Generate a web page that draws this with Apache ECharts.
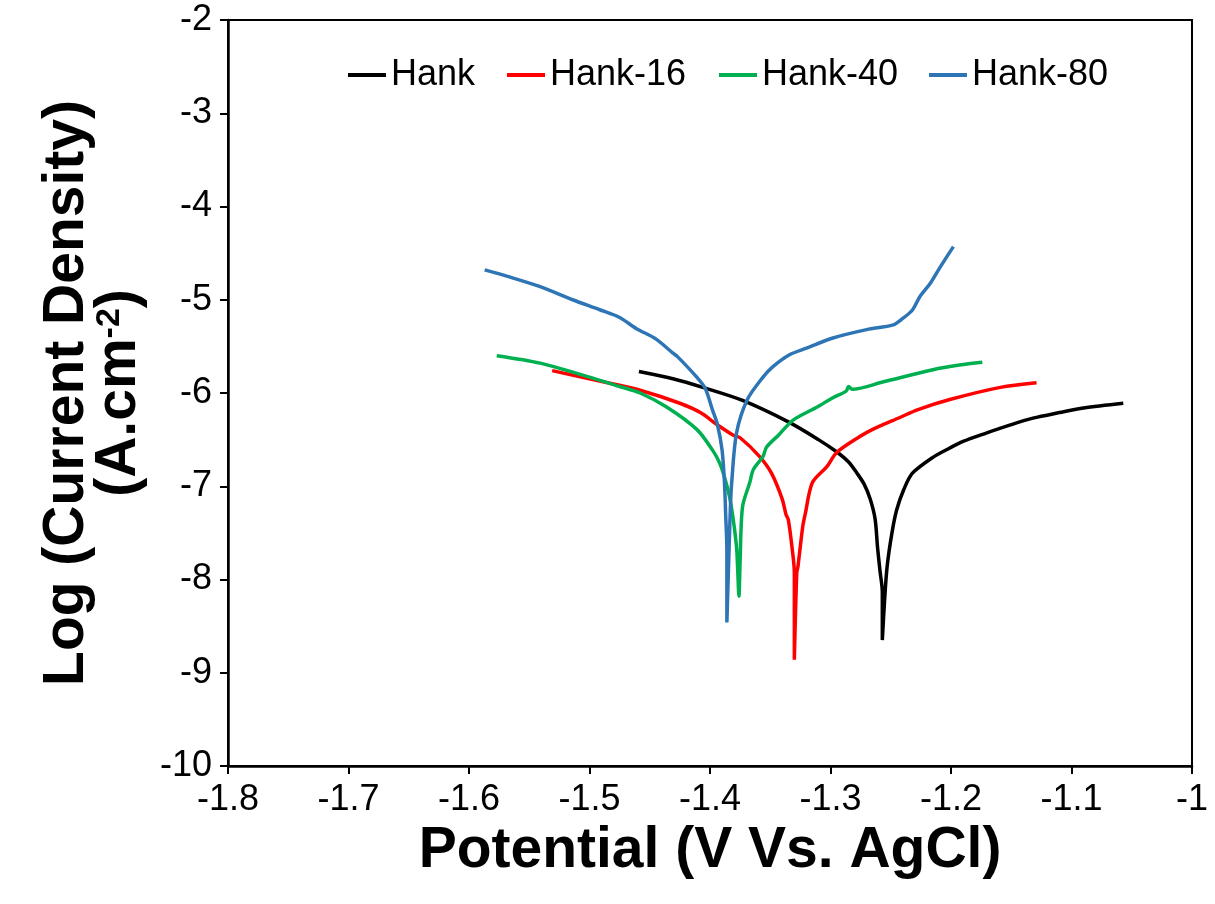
<!DOCTYPE html>
<html>
<head>
<meta charset="UTF-8">
<title>Potential vs Log current density</title>
<script src="https://cdn.jsdelivr.net/npm/echarts@6/dist/echarts.min.js"></script>
<style>
body {
	margin: 0;
	background: #ffffff;
}

#main {
	width: 1215px;
	height: 904px;
}
</style>
</head>
<body>
	<div id="main"></div>
	<script>
		// series names and colours
		var names = [ 'Hank', 'Hank-16', 'Hank-40', 'Hank-80' ];
		var colors = [ '#000000', '#FF0000', '#00B050', '#2E75B6' ];

		// [potential V, log current density]
		var hank = [ [ -1.459, -5.77 ], [ -1.430, -5.85 ], [ -1.406, -5.94 ],
				[ -1.373, -6.08 ], [ -1.335, -6.31 ], [ -1.310, -6.50 ],
				[ -1.295, -6.63 ], [ -1.285, -6.74 ], [ -1.278, -6.86 ],
				[ -1.272, -6.98 ], [ -1.267, -7.14 ], [ -1.263, -7.35 ],
				[ -1.261, -7.65 ], [ -1.259, -7.90 ], [ -1.257, -8.14 ],
				[ -1.257, -8.65 ], [ -1.255, -8.20 ], [ -1.253, -7.86 ],
				[ -1.249, -7.50 ], [ -1.245, -7.25 ], [ -1.239, -7.03 ],
				[ -1.232, -6.86 ], [ -1.215, -6.69 ], [ -1.201, -6.59 ],
				[ -1.190, -6.52 ], [ -1.173, -6.44 ], [ -1.150, -6.34 ],
				[ -1.132, -6.27 ], [ -1.110, -6.21 ], [ -1.090, -6.16 ],
				[ -1.057, -6.11 ] ];

		var hank16 = [ [ -1.531, -5.76 ], [ -1.485, -5.89 ], [ -1.458, -5.97 ],
				[ -1.425, -6.11 ], [ -1.408, -6.21 ], [ -1.394, -6.34 ],
				[ -1.381, -6.45 ], [ -1.375, -6.48 ], [ -1.359, -6.68 ],
				[ -1.349, -6.86 ], [ -1.340, -7.14 ], [ -1.337, -7.30 ],
				[ -1.335, -7.36 ], [ -1.332, -7.65 ], [ -1.330, -7.93 ],
				[ -1.330, -8.86 ], [ -1.328, -7.93 ], [ -1.327, -7.86 ],
				[ -1.323, -7.43 ], [ -1.321, -7.30 ], [ -1.315, -6.96 ],
				[ -1.303, -6.79 ], [ -1.295, -6.64 ], [ -1.276, -6.47 ],
				[ -1.265, -6.39 ], [ -1.242, -6.26 ], [ -1.228, -6.18 ],
				[ -1.201, -6.07 ], [ -1.159, -5.94 ], [ -1.129, -5.89 ] ];

		var hank40 = [ [ -1.577, -5.60 ], [ -1.541, -5.68 ], [ -1.500, -5.83 ],
				[ -1.475, -5.93 ], [ -1.458, -6.00 ], [ -1.436, -6.15 ],
				[ -1.411, -6.39 ], [ -1.398, -6.61 ], [ -1.392, -6.75 ],
				[ -1.388, -6.90 ], [ -1.384, -7.10 ], [ -1.381, -7.33 ],
				[ -1.378, -7.65 ], [ -1.377, -7.90 ], [ -1.376, -8.18 ],
				[ -1.375, -7.80 ], [ -1.373, -7.22 ], [ -1.367, -6.96 ],
				[ -1.364, -6.82 ], [ -1.356, -6.68 ], [ -1.353, -6.58 ],
				[ -1.343, -6.45 ], [ -1.331, -6.29 ], [ -1.311, -6.15 ],
				[ -1.298, -6.05 ], [ -1.287, -5.98 ], [ -1.285, -5.93 ],
				[ -1.282, -5.96 ], [ -1.256, -5.88 ], [ -1.215, -5.75 ],
				[ -1.193, -5.70 ], [ -1.174, -5.67 ] ];

		var hank80 = [ [ -1.587, -4.68 ], [ -1.568, -4.75 ], [ -1.541, -4.86 ],
				[ -1.514, -5.00 ], [ -1.491, -5.11 ], [ -1.475, -5.19 ],
				[ -1.461, -5.31 ], [ -1.445, -5.42 ], [ -1.431, -5.57 ],
				[ -1.427, -5.61 ], [ -1.411, -5.83 ], [ -1.404, -5.95 ],
				[ -1.398, -6.18 ], [ -1.394, -6.33 ], [ -1.390, -6.61 ],
				[ -1.388, -6.96 ], [ -1.387, -7.30 ], [ -1.386, -7.68 ],
				[ -1.386, -8.46 ], [ -1.384, -7.60 ], [ -1.383, -7.20 ],
				[ -1.382, -6.96 ], [ -1.378, -6.43 ], [ -1.369, -6.07 ],
				[ -1.356, -5.83 ], [ -1.348, -5.72 ], [ -1.334, -5.59 ],
				[ -1.320, -5.52 ], [ -1.298, -5.41 ], [ -1.270, -5.32 ],
				[ -1.248, -5.27 ], [ -1.240, -5.20 ], [ -1.232, -5.11 ],
				[ -1.226, -4.97 ], [ -1.217, -4.82 ], [ -1.209, -4.65 ],
				[ -1.198, -4.43 ] ];

		var curves = [ hank, hank16, hank40, hank80 ];

		// legend x positions (one legend per entry, like excel spacing)
		var legendLeft = [ 343, 502, 714, 924 ];

		var fontName = '"Liberation Sans", Arial, sans-serif';

		var series = [];
		var legends = [];
		for (var i = 0; i < names.length; i++) {
			series.push({
				name : names[i],
				type : 'line',
				data : curves[i],
				symbol : 'none',
				smooth : 0.3,
				lineStyle : {
					color : colors[i],
					width : 3.5
				},
				itemStyle : {
					color : colors[i]
				}
			});
			legends.push({
				data : [ names[i] ],
				left : legendLeft[i],
				top : 52,
				icon : 'rect',
				itemWidth : 38,
				itemHeight : 4,
				itemGap : 0,
				textStyle : {
					fontFamily : fontName,
					fontSize : 36,
					color : '#000'
				}
			});
		}

		var axisText = {
			fontFamily : fontName,
			fontSize : 36,
			color : '#000'
		};

		var option = {
			animation : false,
			grid : {
				left : 228,
				right : 23,
				top : 20,
				bottom : 138,
				show : true,
				borderColor : '#000',
				borderWidth : 2
			},
			legend : legends,
			xAxis : {
				type : 'value',
				min : -1.8,
				max : -1,
				interval : 0.1,
				name : 'Potential (V Vs. AgCl)',
				nameLocation : 'middle',
				nameGap : 46,
				nameTextStyle : {
					fontFamily : fontName,
					fontSize : 57,
					fontWeight : 'bold',
					color : '#000'
				},
				axisLine : {
					onZero : false,
					lineStyle : {
						color : '#000',
						width : 2.5
					}
				},
				axisTick : {
					show : true,
					length : 8,
					lineStyle : {
						color : '#000',
						width : 2
					}
				},
				axisLabel : Object.assign({
					margin : 16,
					formatter : function(v) {
						return +v.toFixed(1) + '';
					}
				}, axisText),
				splitLine : {
					show : false
				}
			},
			yAxis : {
				type : 'value',
				min : -10,
				max : -2,
				interval : 1,
				name : '{a|Log (Current Density)}\n{a|(A.cm}{s|-2}{a|)}',
				nameLocation : 'middle',
				nameRotate : 90,
				nameGap : 83,
				nameTextStyle : {
					rich : {
						a : {
							fontFamily : fontName,
							fontSize : 57,
							fontWeight : 'bold',
							color : '#000',
							lineHeight : 52
						},
						s : {
							fontFamily : fontName,
							fontSize : 34,
							fontWeight : 'bold',
							color : '#000',
							verticalAlign : 'top',
							lineHeight : 52
						}
					}
				},
				axisLine : {
					onZero : false,
					lineStyle : {
						color : '#000',
						width : 2.5
					}
				},
				axisTick : {
					show : true,
					length : 8,
					lineStyle : {
						color : '#000',
						width : 2
					}
				},
				axisLabel : Object.assign({
					margin : 16
				}, axisText),
				splitLine : {
					show : false
				}
			},
			series : series
		};

		var mychart = echarts.init(document.getElementById('main'));
		mychart.setOption(option);
	</script>
</body>
</html>
